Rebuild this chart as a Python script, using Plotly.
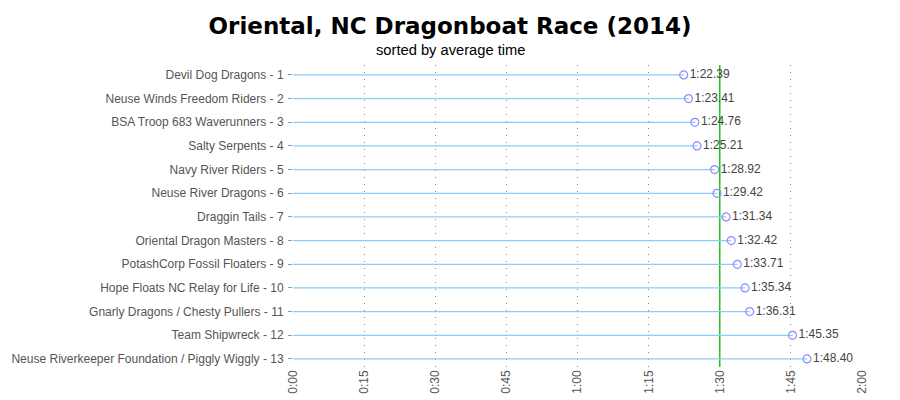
import plotly.graph_objects as go

teams = ["Devil Dog Dragons - 1", "Neuse Winds Freedom Riders - 2", "BSA Troop 683 Waverunners - 3",
         "Salty Serpents - 4", "Navy River Riders - 5", "Neuse River Dragons - 6", "Draggin Tails - 7",
         "Oriental Dragon Masters - 8", "PotashCorp Fossil Floaters - 9", "Hope Floats NC Relay for Life - 10",
         "Gnarly Dragons / Chesty Pullers - 11", "Team Shipwreck - 12",
         "Neuse Riverkeeper Foundation / Piggly Wiggly - 13"]
seconds = [82.39, 83.41, 84.76, 85.21, 88.92, 89.42, 91.34, 92.42, 93.71, 95.34, 96.31, 105.35, 108.40]
time_labels = ["1:22.39", "1:23.41", "1:24.76", "1:25.21", "1:28.92", "1:29.42", "1:31.34",
               "1:32.42", "1:33.71", "1:35.34", "1:36.31", "1:45.35", "1:48.40"]
tick_vals = [0, 15, 30, 45, 60, 75, 90, 105, 120]
tick_text = ["0:00", "0:15", "0:30", "0:45", "1:00", "1:15", "1:30", "1:45", "2:00"]
ref_value = 90

W, H = 900, 400
ML, MR, MT, MB = 293, 38, 65, 33

lx, ly = [], []
for t, s in zip(teams, seconds):
    lx += [0, s, None]
    ly += [t, t, None]

fig = go.Figure()
fig.add_trace(go.Scatter(x=lx, y=ly, mode="lines", line=dict(color="#87CEFA", width=1.3),
                         hoverinfo="skip", showlegend=False))
fig.add_trace(go.Scatter(x=seconds, y=teams, mode="markers+text", text=time_labels,
                         textposition="middle right",
                         textfont=dict(family="Liberation Sans, Arial", size=12, color="#444"),
                         marker=dict(symbol="circle-open", size=8, color="#8C8CFF", line=dict(width=1.2)),
                         showlegend=False))
fig.add_shape(type="line", x0=ref_value, x1=ref_value, xref="x", y0=0, y1=1, yref="paper",
              line=dict(color="#11CC11", width=1.5), layer="below")

center_x = (W / 2 - ML) / (W - ML - MR)

fig.update_layout(
    width=W, height=H,
    margin=dict(l=ML, r=MR, t=MT, b=MB),
    paper_bgcolor="white", plot_bgcolor="white",
    title=dict(text="<b>Oriental, NC Dragonboat Race (2014)</b>", x=0.5, xanchor="center",
               y=0.935, yanchor="middle",
               font=dict(family="DejaVu Sans", size=23, color="black")),
    annotations=[dict(text="sorted by average time", xref="paper", yref="paper", x=center_x, y=1,
                      xanchor="center", yanchor="bottom", yshift=5, showarrow=False,
                      font=dict(family="Liberation Sans, Arial", size=14.7, color="black"))],
    xaxis=dict(range=[0, 120], tickvals=tick_vals, ticktext=tick_text, tickangle=-90,
               showgrid=True, gridcolor="#888", griddash="1px,6px", gridwidth=1,
               zeroline=False, showline=False, ticks="", automargin=False,
               tickfont=dict(family="Liberation Sans, Arial", size=12, color="#555")),
    yaxis=dict(categoryorder="array", categoryarray=teams, range=[12.34, -0.42],
               showgrid=False, zeroline=False, showline=False, ticks="outside", ticklen=4,
               tickcolor="#999", automargin=False, ticklabelstandoff=2,
               tickfont=dict(family="Liberation Sans, Arial", size=12, color="#555")),
)
fig.write_html("out.html", config={"displayModeBar": False},
               post_script="document.body.style.margin='0';document.body.style.overflow='hidden';")
